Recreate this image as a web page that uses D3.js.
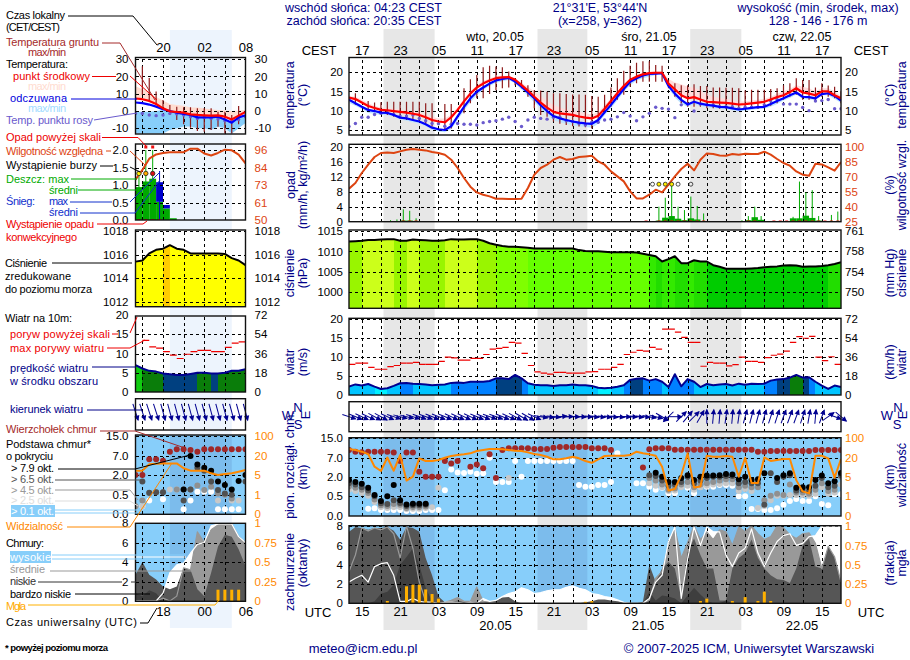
<!DOCTYPE html>
<html>
<head>
<meta charset="utf-8">
<title>meteogram</title>
<style>
  body { margin: 0; background: #fff; }
  text { font-family: "Liberation Sans", Arial, sans-serif; }
</style>
</head>
<body>
<main></main>
<script src="https://cdnjs.cloudflare.com/ajax/libs/d3/7.8.5/d3.min.js"></script>
<script>
const _ = null;

// hour labels
var localHours = ["17","23","05","11","17","23","05","11","17","23","05","11","17"];
var utcHours = ["15","21","03","09","15","21","03","09","15","21","03","09","15"];
var miniLocal = ["20","02","08"];
var miniUtc = ["18","00","06"];

// long forecast, one value per hour
var temp = [13.4,13.0,12.1,11.2,10.7,10.2,10.1,9.9,9.7,9.5,
  9.2,8.9,8.3,7.6,7.2,7.0,8.3,10.2,12.4,14.4,
  16.0,17.0,17.8,18.4,18.6,18.7,18.0,16.6,15.2,13.6,
  12.1,10.8,9.7,9.3,9.1,8.9,8.5,8.2,8.0,8.7,
  10.5,12.5,14.5,16.4,18.0,18.8,19.4,19.7,19.8,19.8,
  17.0,15.5,14.0,13.2,13.5,12.9,12.3,12.2,12.1,12.0,
  11.8,11.6,11.7,11.9,12.1,12.3,12.9,13.5,14.0,14.8,
  15.8,14.7,14.4,14.0,15.0,15.0,14.0,13.2];
var tempMax = [13.8,13.6,12.8,12,11.2,10.8,10.7,10.5,10.3,10.1,
  9.9,9.6,9,8.4,8,8,9,10.9,13,15,
  16.6,17.6,18.3,18.9,19,19,18.4,17.2,16.1,15,
  13.8,12.5,11.5,10.8,10.3,10.1,9.7,9.3,9,9.6,
  11.4,13.2,15,16.8,18.3,19.2,19.8,20,20.1,20.1,
  18.2,17.3,16.8,16.2,16,15.2,14.2,13.6,13.3,13.1,
  12.7,12.4,12.4,12.6,12.8,13,13.6,14.4,15,15.6,
  16.6,16.2,15.8,15,15.8,15.8,15,13.7];
var feels = [12.8,11.9,11,10.2,9.9,9.5,9.4,8.9,8.2,8,
  7.6,7.2,6.5,5.6,5.2,5,6,8.5,11,13.2,
  14.9,16,17,17.8,18.2,18.5,17.5,16.2,14.7,13.2,
  11.4,9.9,8.6,8,7.6,7.2,6.9,6.7,6.6,7.6,
  9.6,11.5,13.6,15.6,17.5,18.4,19.1,19.5,19.6,19.7,
  16.4,14.4,12.8,11.6,12.3,11.8,11.5,11.3,11,10.9,
  10.6,10.3,10.5,10.7,10.9,11,11.7,12.5,13.2,14,
  14.7,13.6,13.5,13.2,14.3,14.5,13.8,12.6];
var feelsMin = [12,11.3,10.4,9.4,9.2,8.9,8.8,8.4,7.7,7.4,
  7,6.7,6,5,4.6,4.4,5.2,7.6,10,12.2,
  14,15.4,16.4,17.2,17.6,17.9,17,15.5,13.8,12.2,
  10.4,8.9,7.6,7,6.6,6.2,6,5.8,5.6,6.6,
  8.8,10.6,12.6,14.8,16.6,17.8,18.4,18.8,19.2,19.4,
  15.8,13.4,11.8,11,11.6,11.2,10.8,10.6,10.4,10.3,
  10.1,9.8,10,10.2,10.4,10.5,11,11.7,12.6,13.3,
  14.2,13,12.9,12.8,14,14,13,12];
var dewPoint = [5.9,6.7,8.3,8.3,9,9.3,9.5,9,8.6,8.6,
  8.9,8,7.4,6.7,6.6,6,6.5,6.7,6.5,6.5,
  6.3,6.9,7.2,7.4,7.8,8.3,7.2,5.9,7.6,8.3,
  8,7.8,8.3,8.3,7.4,7.2,6.7,6.3,7,7,
  7.6,7.8,8.4,9.5,8.6,7.4,8.4,9.3,10.9,10.6,
  10.4,8.2,11.5,11.7,9.9,11.7,11.5,11.5,11,11,
  11,10.6,10.9,10.9,10.9,11.5,12.5,12.9,11.7,11.7,
  11.7,10.8,10,12.5,12.6,12.9,10.5,10.5];
var groundMax = [_,14.5,_,12.5,12.1,12.2,12.3,12.3,12.3,12.3,
  12.3,12.3,11.9,11.9,_,11.7,11.7,_,15.8,18.1,
  19.2,21.2,21.6,21.4,21.2,20.1,18.4,17.9,16.6,15.3,
  15.2,14.9,14.5,14.5,14.3,14.2,14.2,14.1,13.8,13.6,
  14.1,16,18.4,20.3,21.6,22.4,22.8,22.8,21.8,21.6,
  17.9,17.1,16.6,16.6,16.8,16.4,16.4,16,16,15.9,
  15.9,15.8,15.2,15.4,15.4,15.4,15.6,15.8,16.6,17.1,
  18.4,17.9,17.9,16,17.1,16.5,16.2,15];
var groundMin = [_,11.5,_,10.2,9.7,9.3,8.9,8.4,8,7.6,
  7.6,7.2,6.6,5.9,_,5.2,5.4,_,9.3,11.9,
  13.2,13.2,14.3,15.3,15.8,16,16.6,15.8,13.6,10.6,
  8.9,8.4,7.2,6.6,6.3,6,5.9,5.7,5.4,6.7,
  9.3,11,12.8,14.1,16.2,17.1,17.5,17.5,17.5,17.5,
  15.8,13.6,11.9,11,11,11,10.6,10.6,10.5,10.5,
  10.4,10.4,10.4,10.4,10.4,10.6,11.3,11.9,12.8,13.6,
  14.1,12.8,12.8,12.4,13.6,13.6,13.2,11.9];
var humidity = [58,63.7,73.7,82,89.7,93.7,94.3,93.7,95.3,97,
  97.7,97,96.3,94.7,93.7,92,87,78.7,68.7,60,
  54.3,52,50.3,48,48,47.7,47.7,48,58.7,72,
  78.7,82,87,89.7,87,87.7,89.7,90.3,91,85.3,
  82,75.3,70.3,65.3,55.3,48.3,48.3,52,57,54.3,
  62,70.3,77.7,83,76.3,87,93.3,92.7,91.3,91,
  92.7,92,93,92.7,92.7,95,92,87.7,83.7,81,
  75.3,72,71,83,82.3,79.3,76,84.7];
var rainMax = [0,0,0,0,0,0,.4,.6,3.3,2.9,
  .9,0,0,0,0,0,0,0,0,0,
  0,0,0,0,0,0,0,0,0,0,
  0,0,0,0,0,0,0,0,0,0,
  0,0,0,0,0,0,0,0,4,6.4,
  9.8,4,3.1,6.7,4.2,2.2,0,0,0,0,
  0,.4,1.5,4,1.5,0,0,0,0,1.3,
  10.7,7.8,8.4,1.5,0,1.8,2.7,0];
var rainMean = [0,0,0,0,0,0,0,0,.3,.3,
  .2,0,0,0,0,0,0,0,0,0,
  0,0,0,0,0,0,0,0,0,0,
  0,0,0,0,0,0,0,0,0,0,
  0,0,0,0,0,0,0,0,.3,1.07,
  1.5,.8,.4,.9,.6,.1,0,0,0,0,
  0,0,.4,1.2,.5,0,0,0,0,.9,
  .9,1.6,1,.3,0,0,0,0];
var convectiveHours = [8,9,10,46,48,49,50,51,52,53,54,55,62,63,66,67,68,69,70,71,72,73,74,75,76];
var stormSure = [48,49,50];
var stormWeak = [47,51,53];
var pressure = [1012.4,1012.5,1012.6,1012.8,1012.8,1012.9,1013,1013,1012.6,1012.6,
  1012.9,1012.8,1012.7,1012.6,1012.6,1012.7,1013,1012.9,1012.9,1013,
  1013,1012.6,1012,1011.6,1011.3,1011.1,1011.1,1011,1010.9,1010.7,
  1010.7,1010.7,1010.7,1010.7,1010.7,1010.7,1010.3,1010.1,1010,1010,
  1009.9,1009.8,1009.8,1009.8,1009.8,1009.7,1009.4,1009.1,1008.8,1007.5,
  1008.1,1008.8,1007.1,1007.1,1007.8,1007.5,1007.5,1006.6,1006.2,1005.7,
  1005.7,1005.7,1005.7,1005.8,1005.9,1006.1,1006.2,1006.3,1006.5,1006.6,
  1006.5,1006.2,1006.3,1006.3,1006.4,1006.6,1006.9,1007.3];
var wind = [2.2,2.8,2.5,2.9,2.2,1.6,1.8,2.4,3.1,3.2,
  3,2.9,2.8,2.6,2.7,2.8,3.2,3.3,3.2,3.5,
  3.5,3.5,3.7,4.4,4.4,4.2,5.3,4.4,3.1,2.7,
  2.6,2.6,2.4,2.6,2.6,2.8,2.6,2.6,2.4,1.9,
  1.8,1.9,2.2,2.6,4,4.3,4.4,3.8,4.2,3.5,
  2.1,5.5,2.3,4.2,3.5,2.1,2.9,2.6,2.8,2.9,
  2.5,3,2.7,3,2.9,3,3.8,4.1,4.2,4.6,
  5.3,4.6,4.7,3.5,2.5,1.6,2.5,2.1];
var gust = [8.1,8.4,8.4,7.3,6.8,6.8,7.5,7.8,8.4,8.4,
  8.6,8.1,8.1,8.1,8.9,10,9.8,9.2,9.2,9.7,
  9.7,10.7,12.1,12.3,12.6,13.9,13.7,11,7.8,6.1,
  5.8,5.5,6,6,5.8,5.8,5.8,6.1,6.2,6.8,
  6.8,7.3,8.1,10.7,11.3,11.8,11.6,12.6,12.1,17.4,
  17.4,16.6,15.2,13.9,13.9,7.6,8.6,8.4,8.4,7.7,
  8,10,8.9,8.9,8.6,9.9,10.5,10.8,11.6,13.9,
  15.4,15,15.5,10,9.1,10.1,8.1];
var windDir = [108,112,115,115,118,118,115,108,105,105,
  108,110,110,112,112,112,115,115,115,115,
  112,112,110,110,112,115,118,120,120,115,
  100,98,95,85,88,90,92,92,95,95,
  95,95,95,92,92,95,95,100,105,120,
  225,90,45,40,45,30,0,5,5,8,
  5,8,15,15,15,15,18,18,20,20,
  20,18,10,5,20,55,110,130];
var cloudTop = [10.2,9.5,9.2,9.5,9.5,9.5,9.5,9.1,6.1,9.1,
  9.1,3.3,2,2,2,6.1,5.5,6.1,_,4.6,
  5.2,4.2,8.4,1.9,10.2,10.9,10.9,10.9,10.9,10.6,
  10.6,10.6,11.1,11.4,11.4,11.4,11.4,11.4,10.9,10.9,
  10.9,10.2,_,_,_,_,4.4,10.5,10.9,10.9,
  10.9,10.3,10.3,10.3,10.3,10.3,10.3,10.3,10.3,10.3,
  10.3,10.3,10.3,10.3,9.5,9.5,9.8,9.8,9.8,9.8,
  9.8,9.8,9.8,10.2,10.2,10.2,10.2,10.2];
var base01 = [1.1,.97,.85,.18,.19,.15,.15,.15,.15,.12,
  .12,.12,.15,.15,.15,.97,3.9,3.1,3,3.3,
  2.8,2.9,7,1.6,1.6,1.6,6.1,2,6.1,6.1,
  6.1,6.1,6.1,6.1,6.1,6.1,1.36,1.24,1.24,1.36,
  1.36,1.6,8.8,_,_,1.5,1.5,1.24,1,1.16,
  .73,.73,1.36,1.16,.73,1.24,1.24,1.24,1.36,1.36,
  1.3,.5,.5,.17,.17,.15,.15,.19,.28,.38,
  .43,.38,.38,.5,.3,.27,.65,.65];
var base25 = [1,.9,.75,.55,.35,.22,.2,.22,.22,.17,
  .18,.18,.2,.22,1.16,_,_,_,_,_,
  _,_,_,_,_,1.9,_,_,_,_,
  _,_,_,_,_,_,_,_,_,_,
  _,_,_,_,_,_,_,1.5,1.3,1.2,
  .9,.95,1.2,1.3,1,1.2,1.3,1.4,1.45,1.5,
  1.5,.9,1.05,.9,.2,.25,.4,.55,.55,.6,
  .6,.6,.55,.7,1.2,.7,.8,1.4];
var base45 = [1.25,1.15,1,.75,.42,.27,.25,.3,.28,.2,
  .22,.22,.24,2,_,_,_,_,_,_,
  _,_,_,_,_,_,_,_,_,_,
  _,_,_,_,_,_,_,_,_,_,
  _,_,_,_,_,_,_,1.9,1.7,1.4,
  1,1.1,1.4,1.6,1.2,1.4,1.5,1.6,1.7,1.8,
  1.8,1.2,1.3,1.2,1.2,.4,.55,.7,.6,1.4,
  .8,.8,.7,1,1.5,.9,1,2];
var base65 = [1.5,1.4,1.2,.95,.5,.32,.3,.4,.33,.25,
  .27,.27,.28,_,_,_,_,_,_,_,
  _,_,_,_,_,_,_,_,_,_,
  _,_,_,_,_,_,_,_,_,_,
  _,_,_,_,_,_,_,2.4,2.2,1.7,
  1.3,1.4,1.6,2,1.5,1.7,1.9,2,2,2.2,
  2.2,1.5,1.6,1.5,1.5,.28,2.9,1.6,2,2.4,
  .95,1,.9,1.3,1.9,1.2,1.3,2.4];
var base79 = [1.75,1.6,1.46,1.16,.6,.38,.5,1.36,.4,.29,
  .31,.31,.31,_,_,_,_,_,_,_,
  _,_,_,_,_,_,_,_,_,_,
  _,_,_,_,_,_,_,_,_,_,
  _,_,_,_,_,_,_,_,3.05,2,
  1.6,1.6,1.9,2.4,1.75,2,2.3,2.3,2.4,2.7,
  2.6,1.8,2,1.75,1.8,2.9,_,1.9,2.4,2.9,
  1.16,1.2,1.2,1.75,2.3,1.5,1.65,3];
var visibility = [55.9,51.7,44.8,35,12.9,9.5,21,9.7,31,4.2,
  5,19.5,17.4,17.4,18.2,20,27,31,33.8,38,
  47.6,51.7,56,56,54.5,51.7,49,47.6,42,35,
  31,24,18.7,18.7,19.5,24,19.5,17.4,16,18.7,
  27,28,28,28,31,44.8,38,33.8,28,12.9,
  2.2,2.5,6.3,38,2.8,3,28,24,24,27,
  24,5,20,3.7,3.7,21,17.4,18.2,19,19,
  4.3,2,1.6,28,28,19.5,4.8,19];
var cloudHigh = [2.2,2.6,2.9,2.2,3.8,4.1,4.2,2.9,.2,.2,
  .5,.2,.1,.1,0,.1,.1,.1,0,.1,
  0,.5,.2,.3,.7,1,1.2,1.6,1.4,1,
  1.1,1.3,1.4,1.4,1.65,1.8,1.55,1.4,1,.9,
  .7,.6,.35,.1,0,0,0,.5,2.2,2.9,
  6.4,7.9,.5,4.6,7.9,6,7.9,7.4,7.4,5,
  3.8,5.2,5.7,7.7,5.2,3.8,5.2,6.4,7,7.2,
  6,6.2,6.9,7,8,8,8,8];
var cloudMid = [3.3,5,7.8,7.5,7.8,7.6,7.9,7.2,4.7,8,
  5.7,2.2,.2,.1,0,.1,.3,.6,.2,.2,
  1.7,.2,.1,0,0,0,0,0,0,0,
  0,0,0,0,0,0,0,0,0,0,
  0,0,0,0,0,0,0,.3,2.6,3.3,
  6,7.8,4.7,6.3,8,6.6,7.4,6.6,7.6,7.4,
  6,7.9,7.4,8,7.2,6.6,6.9,8,7.8,7.1,
  6.7,7.2,7.3,6.2,3.6,5.9,4.8,2.2];
var cloudLow = [7.4,7.9,7.8,7.6,7.8,7.8,7.9,7.5,6.6,7.9,
  7.8,7.4,4.7,2.9,.7,.1,.1,.3,.1,0,
  0,0,.2,.3,.6,.65,.2,0,0,0,
  0,0,0,0,0,0,0,.1,.2,.4,
  .4,.3,.2,.1,0,0,.15,4,2.2,3.6,
  4.3,3.6,.5,5.3,6.7,5,3.6,3.6,.3,.3,
  3.6,4.7,5.2,6.6,4.7,3.6,2.9,2.5,2.4,2.1,
  3.6,6,6.7,3.8,3.6,5.9,4.8,2.2];
var cloudVeryLow = [0,0,0,0,.2,1,1.2,1.9,4,4.8,
  5.7,4,1.6,.2,0,0,0,0,0,0,
  0,0,0,0,0,0,0,0,0,0,
  0,0,0,0,0,0,0,0,0,0,
  0,0,0,0,0,0,0,1.2,.3,.8,
  .7,.5,0,.8,1.6,.9,.3,0,0,.3,
  0,0,0,0,0,0,0,0,0,0,
  0,0,0,0,0,0,0,0];
var fog = [0,0,0,0,0,0,.03,0,0,.22,
  .24,.24,.18,.12,.06,0,0,0,0,0,
  0,0,0,0,0,0,0,0,0,0,
  0,0,0,0,0,0,0,.02,.03,0,
  0,0,0,0,0,0,0,0,0,0,
  0,0,0,0,0,.03,.06,0,0,0,
  .03,0,.08,0,.03,.15,.03,0,0,0,
  0,0,0,0,0,0,0,0];

// short forecast on the legend side
var miniTemp = [7.2,6.8,5.8,4,1.5,-.2,-.6,-1,-2,-2.3,-2.5,-2.7,-2.5,-3.3,-4.9,-2.7,-.6];
var miniTempMax = [14.2,12.6,11,8,6,4,3.5,3,2,2,1.5,1,.5,.3,0,.2,.5];
var miniFeels = [4.9,4.5,3.7,2.5,1,0,-1,-1.7,-2.3,-3.7,-3.7,-3.7,-3.3,-4.9,-6.8,-3.7,-2.5];
var miniFeelsTop = [-.5,-.5,-.5,0,.5,0,-1,-1.7,-2.3,-3.7,-3.7,-3.7,-3.3,-4.9,-6.8,-3.7,-2.5];
var miniFeelsMin = [-13,-13,-13,-13,-13,-11,-10,-9,-9,-10,-10,-11,-9,-10,-13,-10,-7];
var miniDew = [-1.4,-1.4,-2.3,-2.7,-2.3,-1.4,-1.7,-2.3,-3.3,-4.3,-3.7,-4.3,-4.7,-5.6,-5.6,-4.9,-3.3];
var miniGroundMax = [_,25.8,19,11.3,6.4,3.5,2.5,2.1,2.1,1.6,1.6,1.6,-.4,-.4,-2.3,2.9,_];
var miniGroundMin = [_,9.3,5.4,3.5,.6,-2.3,-5.2,-7.6,-9.7,-11.5,-12,-11,-9.1,-13,-13,-7.6,_];
var miniHumidity = [76.4,82.6,90.1,93,94,94.5,94.5,94.5,96.9,96.9,93.6,92.3,94,96.2,95.8,92.9,87];
var miniRainMean = [.94,1.1,1.18,.52,.33,.05,0,0,0,0,0,0,0,0,0,0];
var miniRainMax = [1.35,2,2,0,0,0,0,0,0,0,0,0,0,0,0,0];
var miniSnowMean = [0,0,0,.56,.1,0,0,0,0,0,0,0,0,0,0,0];
var miniSnowMax = [0,0,0,1.4,0,0,0,0,0,0,0,0,0,0,0,0];
var miniAboveScale = [1,2];
var miniConvective = [0,1,2,3];
var miniStorm = ["#ffee00","#ffaa00","#dd1111"];
var miniPressure = [1015.4,1015.5,1016.1,1016.4,1016.5,1016.8,1016.5,1016.4,1016.1,1016.1,1016.1,1016.1,1016.1,1016.05,1015.7,1015.5,1015.1];
var miniWind = [7,6.1,5.5,5.3,4.8,4.6,4.4,4.4,4.7,5,5,4.8,4.8,5,5.5,5.5,5.9];
var miniGust = [_,13.4,11.7,11.4,10.5,9.6,8.7,9.8,10.5,10.8,10.8,10.5,10.5,11.6,12.7,13];
var miniDir = [162,162,162,162,165,165,165,165,165,165,165,165,165,165,165,165,165];
var miniTop = [2,2,6.1,6.1,5.7,8.6,9.6,9.6,9.3,8.6,9.6,9.6,9.6,9.6,9.6,9.6,9.6];
var mini01 = [_,.2,.35,_,.38,_,_,.12,.35,.73,.73,.73,.12,.12,.12,.12,_];
var mini25 = [.2,.2,_,_,_,.9,.9,_,_,_,_,_,.35,_,.35,.35,_];
var mini45 = [.2,.35,.62,.68,.68,_,.9,.9,.9,1.2,.85,1.1,.6,.5,.4,_,_];
var mini65 = [_,1.5,.65,.68,.68,_,_,.35,.9,3.9,3.1,1.5,.85,.6,.5,_,1.5];
var mini79 = [_,_,_,_,_,_,_,.9,6.9,4.7,3.9,3.1,1.5,1.24,.9,1.54,2];
var miniVis = [8.4,8.4,13.3,13.8,14,14,14,10.2,8.4,8.4,8.4,6.3,5,5.8,6.3,7.6,8.9];
var miniHigh = [0,0,0,0,.8,2.9,3.7,3.9,4.9,5.8,6,7.7,7.9,7.9,7.9,6.6,6];
var miniMid = [0,0,0,0,.3,0,.5,3.4,3.2,7.1,6,7.3,7.8,7.9,7.9,6.6,6];
var miniLow = [2.7,4,2.7,2.2,1.5,1.2,1.5,3.4,3.2,1.2,.5,2.9,5.6,6.8,6.6,5.3,3.6];
var miniVeryLow = [.8,.5,1.1,.8,0,0,0,0,0,0,0,0,0,0,0,0,0];
var miniFog = [0,0,0,0,0,0,0,0,0,0,0,0,.145,.145,.145,.145,0];

// colours by value
var pressureColor = d3.scaleThreshold()
  .domain([1006.7,1007.6,1008.9,1010.8,1011.5,1012.8,1014,1016.7])
  .range(["#00cc00","#22dd00","#33ea00","#66ff00","#7fff00","#99f500","#ccff1a","#ffff00","#ffcc00"]);
var windColor = d3.scaleThreshold()
  .domain([2.05,3.1,4.15,4.9,5.9])
  .range(["#00f0ff","#00c4ff","#0080ff","#004080","#0a7d0a","#11cc11"]);

var NAVY = "#000088", RH = "#dd4411", ORANGE = "#ff8800", SKY = "#87cefa";

var svg = d3.select("main").append("svg").attr("width", 910).attr("height", 660);
var defs = svg.append("defs");
var clipCount = 0;

// x scales, main one is hours from 13 UTC, mini one from 14 UTC
var xMain = d3.scaleLinear().domain([0, 77]).range([349, 841]);
var xMini = d3.scaleLinear().domain([0, 16]).range([135.5, 245.5]);
var gridMain = d3.range(2, 78, 3);
var gridMini = [1, 4, 7, 10, 13];
var labelMain = d3.range(2, 78, 6);

// night bands
var nightMain = [[5.4, 13.4], [29.5, 37.3], [53.4, 61.4]];
var nightMini = [[5, 14]];
var bands = svg.append("g");
nightMain.forEach(function (n) {
  bands.append("rect").attr("x", xMain(n[0])).attr("y", 29)
    .attr("width", xMain(n[1]) - xMain(n[0])).attr("height", 601).attr("fill", "#e7e7e7");
});
nightMini.forEach(function (n) {
  bands.append("rect").attr("x", xMini(n[0])).attr("y", 30)
    .attr("width", xMini(n[1]) - xMini(n[0])).attr("height", 598).attr("fill", "#edf4fd");
});

function panel(x, top, bottom) {
  var id = "clip" + (clipCount++);
  var r = x.range();
  defs.append("clipPath").attr("id", id).append("rect")
    .attr("x", r[0]).attr("y", top).attr("width", r[1] - r[0]).attr("height", bottom - top);
  var g = svg.append("g").attr("clip-path", "url(#" + id + ")");
  return { x: x, top: top, bottom: bottom, g: g, left: r[0], right: r[1], w: r[1] - r[0], h: bottom - top };
}

function grid(p, xVals, y, yVals) {
  var v = p.g.append("g").attr("transform", "translate(0," + p.bottom + ")")
    .call(d3.axisBottom(p.x).tickValues(xVals).tickSize(-p.h).tickFormat(""));
  var h = p.g.append("g").attr("transform", "translate(" + p.left + ",0)")
    .call(d3.axisLeft(y).tickValues(yVals).tickSize(-p.w).tickFormat(""));
  [v, h].forEach(function (a) {
    a.select(".domain").remove();
    a.selectAll("line").attr("stroke", "#000").attr("stroke-dasharray", "3,3").attr("shape-rendering", "crispEdges");
  });
}

function frame(p) {
  svg.append("rect").attr("x", p.left).attr("y", p.top).attr("width", p.w).attr("height", p.h)
    .attr("fill", "none").attr("stroke", "#111").attr("stroke-width", 1.4);
}

function ticks(axisFn, pos, y, vals, color, fmt, pad) {
  var a = svg.append("g").attr("transform", "translate(" + pos + ",0)")
    .call(axisFn(y).tickValues(vals).tickSize(0).tickPadding(pad).tickFormat(fmt));
  a.select(".domain").remove();
  a.attr("font-family", null).attr("font-size", 11.5).style("color", color);
}

function series(p, data, y, color, width) {
  p.g.append("path").datum(data)
    .attr("fill", "none").attr("stroke", color).attr("stroke-width", width).attr("stroke-linejoin", "round")
    .attr("d", d3.line().defined(function (d) { return d != null; })
      .x(function (d, i) { return p.x(i); }).y(function (d) { return y(d); }));
}

function band(p, hi, lo, y, color) {
  p.g.append("path").datum(hi).attr("fill", color)
    .attr("d", d3.area().x(function (d, i) { return p.x(i); })
      .y0(function (d, i) { return y(lo[i]); }).y1(function (d) { return y(d); }));
}

function dots(p, data, y, color, r) {
  p.g.selectAll(null).data(data.map(function (d, i) { return [i, d]; }).filter(function (d) { return d[1] != null; }))
    .enter().append("circle")
    .attr("cx", function (d) { return p.x(d[0]); }).attr("cy", function (d) { return y(d[1]); })
    .attr("r", r).attr("fill", color);
}

function vbars(p, hi, lo, y, color, width) {
  hi.forEach(function (d, i) {
    if (d == null || d === 0) return;
    p.g.append("line").attr("x1", p.x(i)).attr("x2", p.x(i))
      .attr("y1", y(d)).attr("y2", y(lo ? lo[i] : 0))
      .attr("stroke", color).attr("stroke-width", width);
  });
}

function stepBars(p, data, base, y, color) {
  data.forEach(function (d, i) {
    if (!d) return;
    var b = base ? base[i] : 0;
    p.g.append("rect").attr("x", p.x(i)).attr("width", p.x(i + 1) - p.x(i))
      .attr("y", y(b + d)).attr("height", y(b) - y(b + d)).attr("fill", color);
  });
}

function colouredSteps(p, data, y, floor, colorOf) {
  var areaFn = d3.area().x(function (d) { return p.x(d[0]); }).y0(y(floor)).y1(function (d) { return y(d[1]); });
  data.slice(0, -1).forEach(function (d, i) {
    p.g.append("path").attr("fill", colorOf(i))
      .attr("shape-rendering", "crispEdges")
      .attr("d", areaFn([[i, d], [i + 1, data[i + 1]]]));
  });
}

function dashes(p, data, y, color) {
  data.forEach(function (d, i) {
    if (d == null) return;
    p.g.append("line").attr("x1", p.x(i)).attr("x2", p.x(i + 1)).attr("y1", y(d)).attr("y2", y(d))
      .attr("stroke", color).attr("stroke-width", 1.2);
  });
}

function arrows(x, cy, dirs, len) {
  var g = svg.append("g");
  dirs.forEach(function (d, i) {
    var a = g.append("g").attr("transform", "translate(" + x(i) + "," + cy + ") rotate(" + d + ")");
    a.append("line").attr("x1", 0).attr("x2", 0).attr("y1", len / 2).attr("y2", -len / 2)
      .attr("stroke", "#000090").attr("stroke-width", 1);
    a.append("path").attr("d", d3.line()([[0, -len / 2 - 1], [-2.7, -len / 2 + 4.5], [2.7, -len / 2 + 4.5]]) + "Z")
      .attr("fill", "#000090");
  });
}

function skyPanel(p, nights) {
  p.g.append("rect").attr("x", p.left).attr("y", p.top).attr("width", p.w).attr("height", p.h).attr("fill", SKY);
  nights.forEach(function (n) {
    p.g.append("rect").attr("x", p.x(n[0])).attr("y", p.top)
      .attr("width", p.x(n[1]) - p.x(n[0])).attr("height", p.h).attr("fill", "#7cbcec");
  });
}

function fullCloud(p, y, high, mid, low, vlow) {
  band(p, high, high.map(function () { return 0; }), y, "#fff");
  band(p, mid, mid.map(function () { return 0; }), y, "#999");
  band(p, low, low.map(function () { return 0; }), y, "#565656");
  band(p, vlow, vlow.map(function () { return 0; }), y, "#3e3e3e");
}

function str(d) { return String(d); }

// ---------- temperature
var tMain = panel(xMain, 57.5, 135);
var tY = d3.scaleLinear().domain([5, 20]).range([130, 72]);
band(tMain, tempMax, temp, tY, "#ffdcdc");
band(tMain, feels, feelsMin, tY, "#bde3ff");
grid(tMain, gridMain, tY, [5, 10, 15, 20]);
vbars(tMain, groundMax, groundMin, tY, "#8f1c1c", 1.2);
dots(tMain, dewPoint, tY, "#6a5acd", 1.7);
series(tMain, feels, tY, "#0000ff", 2.2);
series(tMain, temp, tY, "#ff0000", 2.2);
frame(tMain);
ticks(d3.axisLeft, 349, tY, [5, 10, 15, 20], "#000", str, 6);
ticks(d3.axisRight, 841, tY, [5, 10, 15, 20], "#000", str, 4);

var tMini = panel(xMini, 57.5, 134);
var tMiniY = d3.scaleLinear().domain([-10, 30]).range([128.3, 59]);
band(tMini, miniTempMax, miniTemp, tMiniY, "#ffdcd0");
band(tMini, miniFeelsTop, miniFeelsMin, tMiniY, "#87cefa");
grid(tMini, gridMini, tMiniY, [-10, 0, 10, 20, 30]);
vbars(tMini, miniGroundMax, miniGroundMin, tMiniY, "#8f1c1c", 1.2);
dots(tMini, miniDew, tMiniY, "#6a5acd", 1.7);
series(tMini, miniFeels, tMiniY, "#0000ff", 2.2);
series(tMini, miniTemp, tMiniY, "#ff0000", 2.2);
frame(tMini);
ticks(d3.axisLeft, 135.5, tMiniY, [-10, 0, 10, 20, 30], "#000", str, 7);
ticks(d3.axisRight, 245.5, tMiniY, [-10, 0, 10, 20, 30], "#000", str, 9);

// ---------- precipitation and humidity
var rMain = panel(xMain, 144.3, 221.7);
var rY = d3.scaleLinear().domain([0, 20]).range([221.7, 146.7]);
var hY = d3.scaleLinear().domain([25, 100]).range([221.7, 146.7]);
var xMid = function (i) { return xMain(i + 0.5); };
stepBars(rMain, rainMean, null, rY, "#00aa00");
grid(rMain, gridMain, rY, [0, 4, 8, 12, 16, 20]);
rainMax.forEach(function (d, i) {
  if (!d) return;
  rMain.g.append("line").attr("x1", xMid(i)).attr("x2", xMid(i)).attr("y1", rY(d)).attr("y2", rY(0))
    .attr("stroke", "#00aa00").attr("stroke-width", 1);
});
convectiveHours.forEach(function (i) {
  rMain.g.append("rect").attr("x", xMid(i) - 1.5).attr("y", rY(0) - 1.2).attr("width", 3).attr("height", 2.4).attr("fill", "#e01010");
});
series(rMain, humidity, hY, RH, 2);
stormSure.concat(stormWeak).forEach(function (i) {
  rMain.g.append("circle").attr("cx", xMid(i)).attr("cy", rY(10)).attr("r", 2)
    .attr("fill", stormSure.indexOf(i) >= 0 ? "#ffee00" : "none").attr("stroke", "#222").attr("stroke-width", 0.8);
});
frame(rMain);
ticks(d3.axisLeft, 349, rY, [0, 4, 8, 12, 16, 20], "#000", str, 6);
ticks(d3.axisRight, 841, hY, [25, 40, 55, 70, 85, 100], RH, str, 4);

var rMini = panel(xMini, 144, 220);
var rMiniY = d3.scaleLinear().domain([0, 2]).range([220, 150]);
var hMiniY = d3.scaleLinear().domain([50, 61, 73, 84, 96]).range([220, 203, 185, 167.7, 150]);
var xMiniMid = function (i) { return xMini(i + 0.5); };
stepBars(rMini, miniRainMean, null, rMiniY, "#00aa00");
stepBars(rMini, miniSnowMean, miniRainMean, rMiniY, "#0000cc");
grid(rMini, gridMini, rMiniY, [0, 0.5, 1, 1.5, 2]);
miniRainMax.forEach(function (d, i) {
  if (!d) return;
  rMini.g.append("line").attr("x1", xMiniMid(i)).attr("x2", xMiniMid(i)).attr("y1", rMiniY(d)).attr("y2", rMiniY(0))
    .attr("stroke", "#00aa00").attr("stroke-width", 1);
});
miniSnowMax.forEach(function (d, i) {
  if (!d) return;
  rMini.g.append("line").attr("x1", xMiniMid(i)).attr("x2", xMiniMid(i)).attr("y1", rMiniY(d)).attr("y2", rMiniY(0))
    .attr("stroke", "#0000cc").attr("stroke-width", 1);
});
miniAboveScale.forEach(function (i) {
  rMini.g.append("rect").attr("x", xMiniMid(i) - 1.5).attr("y", 145.5).attr("width", 3).attr("height", 3).attr("fill", "#ee1010");
});
miniConvective.forEach(function (i) {
  rMini.g.append("rect").attr("x", xMiniMid(i) - 1.5).attr("y", rMiniY(0) - 1).attr("width", 3).attr("height", 2).attr("fill", "#e01010");
});
series(rMini, miniHumidity, hMiniY, RH, 2);
miniStorm.forEach(function (c, i) {
  rMini.g.append("circle").attr("cx", xMiniMid(i)).attr("cy", rMiniY(1.33)).attr("r", 2.2)
    .attr("fill", c).attr("stroke", "#222").attr("stroke-width", 0.8);
});
frame(rMini);
ticks(d3.axisLeft, 135.5, rMiniY, [0, 0.5, 1, 1.5, 2], "#000", d3.format(".1f"), 7);
ticks(d3.axisRight, 245.5, hMiniY, [50, 61, 73, 84, 96], RH, str, 9);

// ---------- pressure
var pMain = panel(xMain, 230, 308.3);
pMain.g.append("rect").attr("x", pMain.left).attr("y", pMain.top).attr("width", pMain.w).attr("height", pMain.h).attr("fill", "#fff");
var pY = d3.scaleLinear().domain([1000, 1015]).range([292, 231]);
var hgY = d3.scaleLinear().domain([750, 754, 758, 761]).range([292, 272, 251, 231]);
colouredSteps(pMain, pressure, pY, 990, function (i) { return pressureColor(pressure[i + 1]); });
grid(pMain, gridMain, pY, [1000, 1005, 1010, 1015]);
series(pMain, pressure, pY, "#000", 2);
frame(pMain);
ticks(d3.axisLeft, 349, pY, [1000, 1005, 1010, 1015], "#000", str, 6);
ticks(d3.axisRight, 841, hgY, [750, 754, 758, 761], "#000", str, 4);

var pMini = panel(xMini, 230, 306.7);
pMini.g.append("rect").attr("x", pMini.left).attr("y", pMini.top).attr("width", pMini.w).attr("height", pMini.h).attr("fill", "#fff");
var pMiniY = d3.scaleLinear().domain([1012, 1018]).range([301.7, 231]);
colouredSteps(pMini, miniPressure, pMiniY, 1010, function (i) { return pressureColor(miniPressure[i + 1]); });
grid(pMini, gridMini, pMiniY, [1012, 1014, 1016, 1018]);
series(pMini, miniPressure, pMiniY, "#000", 2);
frame(pMini);
ticks(d3.axisLeft, 135.5, pMiniY, [1012, 1014, 1016, 1018], "#000", str, 7);
ticks(d3.axisRight, 245.5, pMiniY, [1012, 1014, 1016, 1018], "#000", str, 9);

// ---------- wind
var wMain = panel(xMain, 318.3, 395);
var wY = d3.scaleLinear().domain([0, 20]).range([395, 319.3]);
colouredSteps(wMain, wind, wY, 0, function (i) { return windColor((wind[i] + wind[i + 1]) / 2); });
grid(wMain, gridMain, wY, [0, 5, 10, 15, 20]);
dashes(wMain, gust, wY, "#ee0000");
series(wMain, wind, wY, "#000090", 2);
frame(wMain);
ticks(d3.axisLeft, 349, wY, [0, 5, 10, 15, 20], "#000", str, 6);
var kmhY = d3.scaleLinear().domain([0, 72]).range([395, 319.3]);
ticks(d3.axisRight, 841, kmhY, [0, 18, 36, 54, 72], "#000", str, 4);

var wMini = panel(xMini, 316, 392);
var wMiniY = d3.scaleLinear().domain([0, 20]).range([392, 315]);
colouredSteps(wMini, miniWind, wMiniY, 0, function (i) { return windColor((miniWind[i] + miniWind[i + 1]) / 2); });
grid(wMini, gridMini, wMiniY, [0, 5, 10, 15, 20]);
dashes(wMini, miniGust, wMiniY, "#ee0000");
series(wMini, miniWind, wMiniY, "#000090", 2);
frame(wMini);
ticks(d3.axisLeft, 135.5, wMiniY, [0, 5, 10, 15, 20], "#000", str, 7);
var kmhMiniY = d3.scaleLinear().domain([0, 72]).range([392, 315]);
ticks(d3.axisRight, 245.5, kmhMiniY, [0, 18, 36, 54, 72], "#000", str, 9);

// ---------- wind direction
var dMain = panel(xMain, 401.7, 431.7);
var dMini = panel(xMini, 398.7, 430);
var noY = d3.scaleLinear().domain([0, 1]).range([431.7, 401.7]);
var noMiniY = d3.scaleLinear().domain([0, 1]).range([430, 398.7]);
grid(dMain, gridMain, noY, []);
grid(dMini, gridMini, noMiniY, []);
arrows(xMain, 416.7, windDir, 14);
arrows(xMini, 412, miniDir, 17);
frame(dMain);
frame(dMini);

// ---------- cloud base, tops and visibility
var baseDomain = [0, 0.5, 2, 7, 15];
var visDomain = [0, 1, 5, 20, 100];
var bMain = panel(xMain, 437.7, 516);
var bRange = [515.7, 496.3, 476.7, 457.7, 438.3];
var bY = d3.scaleLinear().domain(baseDomain).range(bRange);
var vY = d3.scaleLinear().domain(visDomain).range(bRange);
skyPanel(bMain, nightMain);
grid(bMain, gridMain, bY, baseDomain);
dots(bMain, base01, bY, "#fff", 3);
dots(bMain, base25, bY, "#c8c8c8", 3);
dots(bMain, base45, bY, "#909090", 3);
dots(bMain, base65, bY, "#505050", 3);
dots(bMain, base79, bY, "#000", 3);
dots(bMain, cloudTop, bY, "#a02828", 3);
series(bMain, visibility, vY, ORANGE, 2);
frame(bMain);
ticks(d3.axisLeft, 349, bY, baseDomain, "#000", d3.format(".1f"), 6);
ticks(d3.axisRight, 841, vY, visDomain, ORANGE, str, 4);

var bMini = panel(xMini, 435, 514.3);
var bMiniRange = [514, 494.7, 475, 455.7, 436];
var bMiniY = d3.scaleLinear().domain(baseDomain).range(bMiniRange);
var vMiniY = d3.scaleLinear().domain(visDomain).range(bMiniRange);
skyPanel(bMini, nightMini);
grid(bMini, gridMini, bMiniY, baseDomain);
dots(bMini, mini01, bMiniY, "#fff", 3);
dots(bMini, mini25, bMiniY, "#c8c8c8", 3);
dots(bMini, mini45, bMiniY, "#909090", 3);
dots(bMini, mini65, bMiniY, "#505050", 3);
dots(bMini, mini79, bMiniY, "#000", 3);
dots(bMini, miniTop, bMiniY, "#a02828", 3);
series(bMini, miniVis, vMiniY, ORANGE, 2);
frame(bMini);
ticks(d3.axisLeft, 135.5, bMiniY, baseDomain, "#000", d3.format(".1f"), 7);
ticks(d3.axisRight, 245.5, vMiniY, visDomain, ORANGE, str, 9);

// ---------- cloud cover and fog
var cMain = panel(xMain, 525.7, 603.3);
var cY = d3.scaleLinear().domain([0, 8]).range([603.3, 526]);
var fY = d3.scaleLinear().domain([0, 1]).range([603.3, 526]);
skyPanel(cMain, nightMain);
fullCloud(cMain, cY, cloudHigh, cloudMid, cloudLow, cloudVeryLow);
grid(cMain, gridMain, cY, [0, 2, 4, 6, 8]);
series(cMain, cloudMid, cY, "#999", 1.2);
series(cMain, cloudHigh, cY, "#fff", 1.2);
fog.forEach(function (d, i) {
  if (!d) return;
  cMain.g.append("rect").attr("x", xMain(i) - 1.5).attr("width", 3).attr("y", fY(d)).attr("height", fY(0) - fY(d)).attr("fill", "#ffb000");
});
frame(cMain);
ticks(d3.axisLeft, 349, cY, [0, 2, 4, 6, 8], "#000", str, 6);
ticks(d3.axisRight, 841, fY, [0, 0.25, 0.5, 0.75, 1], ORANGE, str, 4);

var cMini = panel(xMini, 523.3, 601.3);
var cMiniY = d3.scaleLinear().domain([0, 8]).range([601, 523]);
var fMiniY = d3.scaleLinear().domain([0, 1]).range([601, 523]);
skyPanel(cMini, nightMini);
fullCloud(cMini, cMiniY, miniHigh, miniMid, miniLow, miniVeryLow);
grid(cMini, gridMini, cMiniY, [0, 2, 4, 6, 8]);
series(cMini, miniMid, cMiniY, "#999", 1.2);
series(cMini, miniHigh, cMiniY, "#fff", 1.2);
miniFog.forEach(function (d, i) {
  if (!d) return;
  cMini.g.append("rect").attr("x", xMini(i) - 1.5).attr("width", 3).attr("y", fMiniY(d)).attr("height", fMiniY(0) - fMiniY(d)).attr("fill", "#ffb000");
});
frame(cMini);
ticks(d3.axisLeft, 135.5, cMiniY, [0, 2, 4, 6, 8], "#000", str, 7);
ticks(d3.axisRight, 245.5, fMiniY, [0, 0.25, 0.5, 0.75, 1], ORANGE, str, 9);

// ---------- hour labels
function hourAxis(axisFn, x, vals, labels, y) {
  var a = svg.append("g").attr("transform", "translate(0," + y + ")")
    .call(axisFn(x).tickValues(vals).tickSize(0).tickPadding(0).tickFormat(function (d, i) { return labels[i]; }));
  a.select(".domain").remove();
  a.attr("font-family", null).attr("font-size", 13);
}
hourAxis(d3.axisTop, xMain, labelMain, localHours, 55);
hourAxis(d3.axisBottom, xMain, labelMain, utcHours, 607);
hourAxis(d3.axisTop, xMini, [4, 10, 16], miniLocal, 52);
hourAxis(d3.axisBottom, xMini, [4, 10, 16], miniUtc, 607);

// ---------- texts
function label(x, y, s, color, anchor, size) {
  return svg.append("text").attr("x", x).attr("y", y).attr("dy", "0.35em").attr("fill", color || "#000")
    .attr("text-anchor", anchor || "start").attr("font-size", size || 12).text(s);
}
function vlabel(x, y, s, color) {
  svg.append("text").attr("transform", "translate(" + x + "," + y + ") rotate(-90)")
    .attr("dy", "0.35em").attr("text-anchor", "middle").attr("fill", color || NAVY).attr("font-size", 12.5).text(s);
}

label(363.5, 8, "wschód słońca: 04:23 CEST", NAVY, "middle", 12.5);
label(364, 21, "zachód słońca: 20:35 CEST", NAVY, "middle", 12.5);
label(600, 8, "21°31'E, 53°44'N", NAVY, "middle", 12.5);
label(600, 21, "(x=258,  y=362)", NAVY, "middle", 12.5);
label(818, 8, "wysokość (min, środek, max)", NAVY, "middle", 12.5);
label(818, 21, "128 - 146 - 176 m", NAVY, "middle", 12.5);
label(495, 37, "wto, 20.05", "#000", "middle", 12.5);
label(649, 37, "śro, 21.05", "#000", "middle", 12.5);
label(802, 37, "czw, 22.05", "#000", "middle", 12.5);
label(319, 50, "CEST", "#000", "middle", 13);
label(871, 50, "CEST", "#000", "middle", 13);
label(318, 612, "UTC", "#000", "middle", 13);
label(871, 612, "UTC", "#000", "middle", 13);
label(495.5, 625, "20.05", "#000", "middle", 13);
label(648, 625, "21.05", "#000", "middle", 13);
label(802, 625, "22.05", "#000", "middle", 13);
label(363, 648, "meteo@icm.edu.pl", NAVY, "middle", 13);
label(749, 648, "© 2007-2025 ICM, Uniwersytet Warszawski", NAVY, "middle", 13);

vlabel(290, 95, "temperatura"); vlabel(303, 95, "(°C)");
vlabel(890, 95, "(°C)"); vlabel(902, 95, "temperatura");
vlabel(291, 185, "opad"); vlabel(303, 185, "(mm/h, kg/m²/h)");
vlabel(890, 185, "(%)"); vlabel(902, 185, "wilgotność wzgl.");
vlabel(290, 273, "ciśnienie"); vlabel(303, 273, "(hPa)");
vlabel(890, 273, "(mm Hg)"); vlabel(902, 273, "ciśnienie");
vlabel(290, 362, "wiatr"); vlabel(303, 362, "(m/s)");
vlabel(890, 362, "(km/h)"); vlabel(902, 362, "wiatr");
vlabel(290, 465, "pion. rozciągł. chm."); vlabel(303, 477, "(km)");
vlabel(890, 477, "(km)"); vlabel(902, 475, "widzialność");
vlabel(290, 572, "zachmurzenie"); vlabel(303, 563, "(oktanty)");
vlabel(890, 563, "(frakcja)"); vlabel(902, 563, "mgła");

[[288, 415, 298, 407, 305, 415, 298, 424], [887, 415, 898, 407, 902, 415, 897, 424]].forEach(function (c) {
  label(c[0], c[1], "W", NAVY, "middle", 13);
  label(c[2], c[3], "N", NAVY, "middle", 13);
  label(c[6], c[7], "S", NAVY, "middle", 13);
  svg.append("text").attr("transform", "translate(" + c[4] + "," + c[5] + ") rotate(-90)")
    .attr("dy", "0.35em").attr("text-anchor", "middle").attr("fill", NAVY).attr("font-size", 13).text("E");
});

// legend on the left: text, x, y, colour, width
var legendTexts = [
  ["Czas lokalny", 6, 15, "#000", 59], ["(CET/CEST)", 6, 27, "#000", 54],
  ["Temperatura gruntu", 6, 42, "#a52a2a", 93], ["max/min", 28, 52.5, "#a52a2a", 38],
  ["Temperatura:", 6, 64, "#000", 62], ["punkt środkowy", 13, 76.5, "#ee0000", 77],
  ["max/min", 28, 86.5, "#ffdcd0", 38], ["odczuwana", 10, 98.5, "#0000dd", 57],
  ["max/min", 28, 108.5, "#9fdcff", 38], ["Temp. punktu rosy", 6, 120, "#6a5acd", 87],
  ["Opad powyżej skali", 6, 137.5, "#ee0000", 95], ["Wilgotność względna", 6, 151, RH, 97],
  ["Wystąpienie burzy", 6, 165.5, "#000", 91], ["Deszcz: max", 6, 179.5, "#00aa00", 63],
  ["średni", 49, 190.5, "#00aa00", 29], ["Śnieg:", 6, 201, "#1030cc", 29], ["max", 49, 201, "#1030cc", 19],
  ["średni", 49, 212, "#1030cc", 29], ["Wystąpienie opadu", 6, 224, "#ee0000", 88], ["konwekcyjnego", 6, 237, "#ee0000", 71],
  ["Ciśnienie", 5, 263, "#000", 42], ["zredukowane", 5, 276, "#000", 66], ["do poziomu morza", 5, 289, "#000", 87],
  ["Wiatr na 10m:", 5, 318, "#000", 67], ["poryw powyżej skali", 10, 334, "#ee0000", 100], ["max porywy wiatru", 10, 348, "#ee0000", 94],
  ["prędkość wiatru", 10, 368, NAVY, 78], ["w środku obszaru", 10, 381, NAVY, 88], ["kierunek wiatru", 10, 409, NAVY, 73],
  ["Wierzchołek chmur", 6, 429, "#a52a2a", 91], ["Podstawa chmur*", 6, 444, "#000", 85], ["o pokryciu", 6, 456, "#000", 47],
  ["> 7.9 okt.", 11, 468, "#000", 43], ["> 6.5 okt.", 11, 479.5, "#555", 43], ["> 4.5 okt.", 11, 490.5, "#999", 43],
  ["> 2.5 okt.", 11, 500.5, "#ddd", 43], ["Widzialność", 6, 526, ORANGE, 57], ["Chmury:", 6, 543, "#000", 38],
  ["średnie", 10, 569, "#999", 35], ["niskie", 10, 581, "#333", 26], ["bardzo niskie", 10, 594, "#000", 61],
  ["Mgła", 6, 606, "#ffaa00", 20], ["Czas uniwersalny (UTC)", 6, 622, "#000", 131]
];
legendTexts.forEach(function (t) { label(t[1], t[2], t[0], t[3], "start", 11).attr("textLength", t[4]); });
svg.append("rect").attr("x", 11).attr("y", 505).attr("width", 44).attr("height", 12).attr("fill", SKY);
label(11, 511, "> 0.1 okt.", "#fff", "start", 11).attr("textLength", 43);
svg.append("rect").attr("x", 10).attr("y", 551).attr("width", 41).attr("height", 12).attr("fill", SKY);
label(10, 557, "wysokie", "#fff", "start", 11).attr("textLength", 41);
label(5, 648, "* powyżej poziomu morza", "#000", "start", 9.5).attr("font-weight", "bold").attr("textLength", 103);

// leader lines from the legend to the marks
var leaders = [
  ["#000", [[68, 16], [133, 16], [157, 45]]],
  ["#a52a2a", [[102, 43], [120, 43], [155, 100]]],
  ["#ee0000", [[92, 76.5], [116, 76.5]]], ["#ee0000", [[130, 76], [157, 100]]],
  ["#0000dd", [[71, 99], [137, 99]]],
  ["#6a5acd", [[94, 120], [137, 113]]],
  ["#ee0000", [[102, 137.5], [138, 137.5], [146, 146]]],
  [RH, [[106, 151], [111, 151]]], [RH, [[130, 151], [145, 165]]],
  ["#000", [[100, 166], [113, 166]]], ["#000", [[130, 167], [140, 172]]],
  ["#00aa00", [[71, 179], [137, 179]]],
  ["#00aa00", [[78, 190], [137, 190]]],
  ["#1030cc", [[70, 202], [112, 202]]], ["#1030cc", [[130, 202], [160, 172]]],
  ["#1030cc", [[80, 213], [135, 213], [160, 180]]],
  ["#ee0000", [[97, 224], [143, 224], [147, 221]]],
  ["#000", [[52, 263], [132, 263]]],
  ["#ee0000", [[112, 334], [118, 334]]], ["#ee0000", [[130, 333], [137, 317]]],
  ["#ee0000", [[107, 348], [130, 348], [145, 340]]],
  [NAVY, [[92, 367], [136, 367]]],
  [NAVY, [[87, 410], [142, 410]]],
  ["#a52a2a", [[100, 431], [135, 431], [185, 448]]],
  ["#000", [[58, 469], [135, 469], [190, 455]]],
  ["#555", [[55, 480], [142, 480]]],
  ["#999", [[55, 490], [130, 490], [138, 500]]],
  ["#ddd", [[55, 501], [130, 501], [138, 506]]],
  [SKY, [[55, 510], [137, 510]]], [SKY, [[55, 513], [137, 513]]],
  [ORANGE, [[67, 527], [130, 527], [172, 463]]],
  [SKY, [[52, 555], [186, 555]]], [SKY, [[52, 559], [186, 559]]], ["#fff", [[136, 557], [186, 557]]],
  ["#999", [[50, 571], [193, 571]]],
  ["#333", [[38, 582], [122, 582]]], ["#333", [[131, 582], [136, 582]]],
  ["#000", [[75, 594], [150, 594]]],
  ["#ffb000", [[28, 605], [215, 605], [219, 600]]],
  ["#000", [[140, 623], [148, 623], [157, 608]]]
];
leaders.forEach(function (l) {
  svg.append("path").attr("d", d3.line()(l[1])).attr("fill", "none").attr("stroke", l[0]).attr("stroke-width", 1);
});
</script>
</body>
</html>
